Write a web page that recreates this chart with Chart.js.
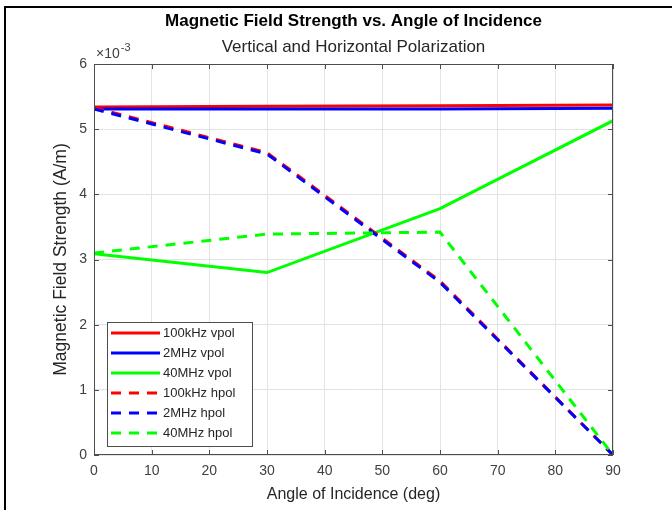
<!DOCTYPE html>
<html>
<head>
<meta charset="utf-8">
<script src="https://cdn.jsdelivr.net/npm/chart.js@4.4.1/dist/chart.umd.min.js"></script>
<style>
html, body { margin: 0; padding: 0; background: #fff; overflow: hidden; }
#wrap { position: relative; width: 672px; height: 510px; }
#frame { position: absolute; left: 4px; top: 6px; width: 668px; height: 504px; border-left: 2px solid #000; border-top: 2px solid #000; pointer-events: none; }
</style>
</head>
<body>
<div id="wrap">
  <canvas id="myChart" width="672" height="510"></canvas>
  <div id="frame"></div>
</div>
<script>
// angle of incidence (deg)
let angles = [0, 30, 60, 90]
let labels = ['100kHz vpol', '2MHz vpol', '40MHz vpol', '100kHz hpol', '2MHz hpol', '40MHz hpol']
// magnetic field strength (A/m)
let vpol100k = [5.34e-3, 5.35e-3, 5.36e-3, 5.37e-3]
let vpol2M = [5.31e-3, 5.31e-3, 5.31e-3, 5.32e-3]
let vpol40M = [3.09e-3, 2.80e-3, 3.78e-3, 5.13e-3]
let hpol100k = [5.33e-3, 4.64e-3, 2.67e-3, 0]
let hpol2M = [5.31e-3, 4.62e-3, 2.65e-3, 0]
let hpol40M = [3.10e-3, 3.39e-3, 3.42e-3, 0]
let xTicks = [0, 10, 20, 30, 40, 50, 60, 70, 80, 90]
let yTicks = [0, 1, 2, 3, 4, 5, 6]

let series = [vpol100k, vpol2M, vpol40M, hpol100k, hpol2M, hpol40M]
let colorHex = ['#ff0000', '#0000ff', '#00ff00', '#ff0000', '#0000ff', '#00ff00']
let dashes = [[], [], [], [10, 8], [10, 8], [10, 8]]

const FONT = "'Liberation Sans', Arial, Helvetica, sans-serif"
const AXIS = '#262626'

let datasets = series.map(function (vals, i) {
    return {
        label: labels[i],
        data: angles.map((a, j) => ({ x: a, y: vals[j] })),
        borderColor: colorHex[i],
        backgroundColor: colorHex[i],
        borderWidth: 3,
        borderDash: dashes[i],
        pointRadius: 0,
        tension: 0,
        fill: false,
        order: series.length - 1 - i, // later series drawn on top, like matlab
    }
})

// title, box, inner ticks, exponent and legend box
const decor = {
    id: 'decor',
    afterDraw(chart) {
        const { ctx, chartArea: a, scales } = chart
        const xs = scales.x, ys = scales.y
        ctx.save()

        // axes box
        ctx.strokeStyle = '#4d4d4d'
        ctx.lineWidth = 1
        ctx.strokeRect(Math.round(a.left) + 0.5, Math.round(a.top) + 0.5, Math.round(a.width) - 1, Math.round(a.height) - 1)

        // ticks pointing inward on all four sides
        ctx.beginPath()
        xTicks.forEach(function (t) {
            let px = Math.round(xs.getPixelForValue(t)) + 0.5
            ctx.moveTo(px, a.bottom); ctx.lineTo(px, a.bottom - 5)
            ctx.moveTo(px, a.top); ctx.lineTo(px, a.top + 5)
        })
        yTicks.forEach(function (t) {
            let py = Math.round(ys.getPixelForValue(t / 1000)) + 0.5
            ctx.moveTo(a.left, py); ctx.lineTo(a.left + 5, py)
            ctx.moveTo(a.right, py); ctx.lineTo(a.right - 5, py)
        })
        ctx.stroke()

        // titles
        let cx = (a.left + a.right) / 2
        ctx.fillStyle = '#000'
        ctx.textAlign = 'center'
        ctx.textBaseline = 'middle'
        ctx.font = 'bold 17px ' + FONT
        ctx.fillText('Magnetic Field Strength vs. Angle of Incidence', cx, 21)
        ctx.fillStyle = AXIS
        ctx.font = '17px ' + FONT
        ctx.fillText('Vertical and Horizontal Polarization', cx, 47)

        // exponent label
        ctx.textAlign = 'left'
        ctx.textBaseline = 'alphabetic'
        ctx.fillStyle = '#404040'
        ctx.font = '14px ' + FONT
        ctx.fillText('\u00d710', a.left + 2, a.top - 6)
        let w = ctx.measureText('\u00d710').width
        ctx.font = '11px ' + FONT
        ctx.fillText('-3', a.left + 2 + w + 1, a.top - 13)

        // legend
        let lx = a.left + 13, ly = a.bottom - 133, lw = 145, lh = 124
        ctx.fillStyle = '#fff'
        ctx.fillRect(lx, ly, lw, lh)
        ctx.strokeStyle = '#4d4d4d'
        ctx.lineWidth = 1
        ctx.strokeRect(lx + 0.5, ly + 0.5, lw, lh)
        ctx.font = '13px ' + FONT
        ctx.textBaseline = 'middle'
        chart.data.datasets.forEach(function (ds, i) {
            let ry = ly + 11 + i * 20
            ctx.strokeStyle = ds.borderColor
            ctx.lineWidth = ds.borderWidth
            ctx.setLineDash(ds.borderDash)
            ctx.beginPath()
            ctx.moveTo(lx + 4, ry)
            ctx.lineTo(lx + 53, ry)
            ctx.stroke()
            ctx.setLineDash([])
            ctx.fillStyle = AXIS
            ctx.fillText(ds.label, lx + 56, ry)
        })
        ctx.restore()
    }
}

let chartCtx = document.getElementById('myChart').getContext('2d')
let myChart = new Chart(chartCtx, {
    type: 'line',
    data: { datasets: datasets },
    options: {
        responsive: false,
        animation: false,
        layout: { autoPadding: false, padding: { top: 64, right: 59, left: 0, bottom: 0 } },
        plugins: {
            legend: { display: false },
            title: { display: false },
            tooltip: { enabled: false },
        },
        scales: {
            x: {
                type: 'linear',
                min: 0,
                max: 90,
                afterFit: function (s) { s.height = 55 },
                afterBuildTicks: function (s) { s.ticks = xTicks.map(v => ({ value: v })) },
                ticks: { color: '#404040', font: { family: FONT, size: 14 }, padding: 8, maxRotation: 0 },
                grid: { color: '#e3e3e3', drawTicks: false },
                border: { display: false },
                title: {
                    display: true,
                    text: 'Angle of Incidence (deg)',
                    color: AXIS,
                    font: { family: FONT, size: 16 },
                    padding: { top: 0, bottom: 6 },
                },
            },
            y: {
                type: 'linear',
                min: 0,
                max: 0.006,
                afterFit: function (s) { s.width = 94 },
                afterBuildTicks: function (s) { s.ticks = yTicks.map(v => ({ value: v / 1000 })) },
                ticks: {
                    color: '#404040',
                    font: { family: FONT, size: 14 },
                    padding: 7,
                    callback: function (v) { return Math.round(v * 1000) },
                },
                grid: { color: '#e3e3e3', drawTicks: false },
                border: { display: false },
                title: {
                    display: true,
                    text: 'Magnetic Field Strength (A/m)',
                    color: AXIS,
                    font: { family: FONT, size: 17.5 },
                    padding: { top: 51, bottom: 0 },
                },
            },
        },
    },
    plugins: [decor],
})
</script>
</body>
</html>
